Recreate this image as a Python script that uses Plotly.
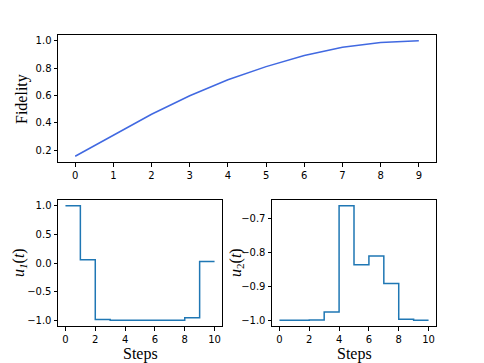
import plotly.graph_objects as go

# fidelity per step (top panel)
steps_top = [0, 1, 2, 3, 4, 5, 6, 7, 8, 9]
fidelity = [0.156, 0.31, 0.463, 0.598, 0.715, 0.811, 0.892, 0.953, 0.988, 1.0]

# control pulses (step plots, post)
steps = [0, 1, 2, 3, 4, 5, 6, 7, 8, 9, 10]
u1 = [1.0, 0.055, -0.985, -1.0, -1.0, -1.0, -1.0, -1.0, -0.955, 0.026, 0.026]
u2 = [-1.0, -1.0, -0.999, -0.976, -0.663, -0.837, -0.811, -0.892, -0.997, -1.0, -1.0]

# page body has an 8px margin, so the figure is drawn 8px in
OFF = 8
W, H = 484 - OFF, 363 - OFF


def px_x(a, b):
    return [(a - OFF) / W, (b - OFF) / W]


def px_y(top, bottom):
    return [1 - (bottom - OFF) / H, 1 - (top - OFF) / H]


def fx(p):
    return (p - OFF) / W


def fy(p):
    return 1 - (p - OFF) / H


fig = go.Figure()
fig.add_trace(go.Scatter(x=steps_top, y=fidelity, mode="lines",
                         line=dict(color="royalblue", width=1.5), xaxis="x", yaxis="y"))
fig.add_trace(go.Scatter(x=steps, y=u1, mode="lines", line_shape="hv",
                         line=dict(color="#1f77b4", width=1.5), xaxis="x2", yaxis="y2"))
fig.add_trace(go.Scatter(x=steps, y=u2, mode="lines", line_shape="hv",
                         line=dict(color="#1f77b4", width=1.5), xaxis="x3", yaxis="y3"))

tick_font = dict(family="DejaVu Sans", size=10, color="black")
title_font = dict(family="Liberation Serif", size=16, color="black")

common = dict(showline=True, linecolor="black", linewidth=1, mirror=True,
              ticks="outside", ticklen=3.5, tickcolor="black", tickwidth=1,
              showgrid=False, zeroline=False, tickfont=tick_font)

fig.update_layout(
    width=W, height=H,
    margin=dict(l=0, r=0, t=0, b=0),
    paper_bgcolor="white", plot_bgcolor="white",
    showlegend=False,
    xaxis=dict(domain=px_x(58, 436), range=[-0.45, 9.45], anchor="y",
               tickvals=steps_top, **common),
    yaxis=dict(domain=px_y(35, 162), range=[0.114, 1.042], anchor="x",
               tickvals=[0.2, 0.4, 0.6, 0.8, 1.0], tickformat=".1f", **common),
    xaxis2=dict(domain=px_x(58, 222), range=[-0.5, 10.5], anchor="y2",
                tickvals=[0, 2, 4, 6, 8, 10], **common),
    yaxis2=dict(domain=px_y(200, 326), range=[-1.1, 1.1], anchor="x2",
                tickvals=[-1.0, -0.5, 0.0, 0.5, 1.0], tickformat=".1f", **common),
    xaxis3=dict(domain=px_x(272, 436), range=[-0.5, 10.5], anchor="y3",
                tickvals=[0, 2, 4, 6, 8, 10], **common),
    yaxis3=dict(domain=px_y(200, 326), range=[-1.017, -0.646], anchor="x3",
                tickvals=[-1.0, -0.9, -0.8, -0.7], tickformat=".1f", **common),
)

# axis titles placed as annotations
titles = [
    ("Fidelity", 22, 99, -90),
    ("<i>u</i><sub><i>1</i></sub>(<i>t</i>)", 19, 263, -90),
    ("<i>u</i><sub>2</sub>(<i>t</i>)", 236, 263, -90),
    ("Steps", 140, 354, 0),
    ("Steps", 354, 354, 0),
]
for text, x, y, ang in titles:
    fig.add_annotation(text=text, x=fx(x), y=fy(y), xref="paper", yref="paper",
                       showarrow=False, textangle=ang, font=title_font,
                       xanchor="center", yanchor="middle")

fig.write_html("out.html")
